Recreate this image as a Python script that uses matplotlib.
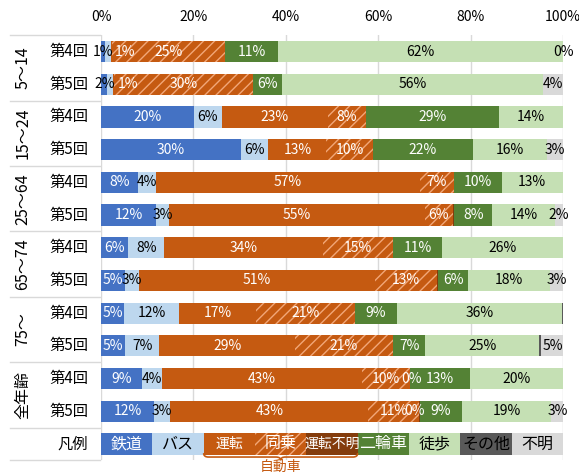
import matplotlib
matplotlib.use("Agg")
import matplotlib.pyplot as plt
import numpy as np
from matplotlib.path import Path
from matplotlib.patches import PathPatch
from matplotlib.transforms import blended_transform_factory

plt.rcParams['font.family'] = ['Noto Sans CJK JP', 'DejaVu Sans']
plt.rcParams['hatch.linewidth'] = 1.0

# ---------------- data ----------------
groups = ['5～14', '15～24', '25～64', '65～74', '75～', '全年齢']
rounds = ['第4回', '第5回']
categories = ['鉄道', 'バス', '運転', '同乗', '運転不明', '二輪車', '徒歩', 'その他', '不明']

tetsudo = [0.9, 1.4, 20.2, 30.3, 8.1, 11.9, 5.9, 5.2, 5.0, 5.2, 8.9, 11.5]
bus = [1.2, 1.3, 5.9, 5.9, 3.8, 2.8, 7.8, 3.0, 11.9, 7.4, 4.3, 3.5]
unten = [0.2, 0.2, 23.0, 12.6, 57.1, 55.4, 34.4, 51.2, 16.7, 29.4, 43.2, 42.9]
dojo = [24.6, 30.1, 8.2, 10.0, 7.4, 6.1, 15.2, 13.3, 21.3, 21.1, 10.5, 11.0]
unten_fumei = [0, 0, 0, 0, 0, 0.3, 0, 0.3, 0, 0.2, 0, 0.1]
nirin = [11.5, 6.2, 28.8, 21.7, 10.4, 8.2, 10.5, 6.4, 9.2, 6.9, 13.0, 9.2]
toho = [61.6, 56.5, 13.9, 16.0, 13.1, 13.6, 26.3, 17.7, 35.7, 24.7, 20.1, 19.3]
sonota = [0, 0, 0, 0, 0, 0, 0, 0, 0.3, 0.3, 0, 0]
fumei = [0, 4.3, 0, 3.5, 0, 1.7, 0, 3.0, 0, 5.0, 0, 2.7]

lbl_tetsudo = ['1%', '2%', '20%', '30%', '8%', '12%', '6%', '5%', '5%', '5%', '9%', '12%']
lbl_bus = ['', '', '6%', '6%', '4%', '3%', '8%', '3%', '12%', '7%', '4%', '3%']
lbl_unten = ['1%', '1%', '23%', '13%', '57%', '55%', '34%', '51%', '17%', '29%', '43%', '43%']
lbl_dojo = ['25%', '30%', '8%', '10%', '7%', '6%', '15%', '13%', '21%', '21%', '10%', '11%']
lbl_unten_fumei = ['', '', '', '', '', '', '', '', '', '', '0%', '0%']
lbl_nirin = ['11%', '6%', '29%', '22%', '10%', '8%', '11%', '6%', '9%', '7%', '13%', '9%']
lbl_toho = ['62%', '56%', '14%', '16%', '13%', '14%', '26%', '18%', '36%', '25%', '20%', '19%']
lbl_sonota = [''] * 12
lbl_fumei = ['0%', '4%', '', '3%', '', '2%', '', '3%', '', '5%', '', '3%']

xticks = [0, 20, 40, 60, 80, 100]
legend_title = '凡例'
brace_label = '自動車'

# ---------------- styles ----------------
values = [tetsudo, bus, unten, dojo, unten_fumei, nirin, toho, sonota, fumei]
labels = [lbl_tetsudo, lbl_bus, lbl_unten, lbl_dojo, lbl_unten_fumei,
          lbl_nirin, lbl_toho, lbl_sonota, lbl_fumei]
colors = ['#4472C4', '#BDD7EE', '#C55A11', '#C55A11', '#843C0C',
          '#548235', '#C5E0B4', '#595959', '#D9D9D9']
hatches = [None, None, None, '///', None, None, None, None, None]
txtcol = ['white', 'black', 'white', 'white', 'white', 'white', 'black', 'black', 'black']
leg_fs = [11.5, 11.5, 10, 11.5, 10, 11.5, 11.5, 11.5, 11.5]

label_shift = {(0, 2): 3.0, (1, 2): 3.1, (10, 4): 0.4, (11, 4): -1.0}
label_color = {(0, 0): 'black', (1, 0): 'black'}

W, H = 579, 473
fig = plt.figure(figsize=(W / 100, H / 100), dpi=100)
top_px, bot_px, left_px, right_px = 35.2, 460.3, 101, 563
ax = fig.add_axes([left_px / W, 1 - bot_px / H, (right_px - left_px) / W, (bot_px - top_px) / H])

nrows = len(tetsudo)
rows = np.arange(nrows)
bh = 0.65
left = np.zeros(nrows)
for ci, (vals, lbls) in enumerate(zip(values, labels)):
    vals = np.array(vals, dtype=float)
    kw = dict(height=bh, left=left, color=colors[ci], linewidth=0)
    if hatches[ci]:
        kw.update(hatch=hatches[ci], edgecolor='#F2A778')
    ax.barh(rows, vals, **kw)
    for r in rows:
        t = lbls[r]
        if not t:
            continue
        xc = left[r] + vals[r] / 2 + label_shift.get((r, ci), 0)
        ax.text(xc, r, t, ha='center', va='center', fontsize=10,
                color=label_color.get((r, ci), txtcol[ci]), clip_on=False)
    left = left + vals

# legend row
ly = nrows
seg = 100 / len(categories)
for ci, cat in enumerate(categories):
    kw = dict(height=bh, left=ci * seg, color=colors[ci], linewidth=0)
    if hatches[ci]:
        kw.update(hatch=hatches[ci], edgecolor='#F2A778')
    ax.barh([ly], [seg], **kw)
    ax.text(ci * seg + seg / 2, ly, cat, ha='center', va='center',
            fontsize=leg_fs[ci], color=txtcol[ci], clip_on=False)

# brace under 運転..運転不明
x0, x1 = 2 * seg, 5 * seg
xm = (x0 + x1) / 2
r = 1.0
yt, yb, ytip = ly + 0.28, ly + 0.40, ly + 0.50
verts = [(x0, yt), (x0, yb), (x0 + r, yb),
         (xm - r, yb), (xm, yb), (xm, ytip),
         (xm, yb), (xm + r, yb),
         (x1 - r, yb), (x1, yb), (x1, yt)]
codes = [Path.MOVETO, Path.CURVE3, Path.CURVE3,
         Path.LINETO, Path.CURVE3, Path.CURVE3,
         Path.CURVE3, Path.CURVE3,
         Path.LINETO, Path.CURVE3, Path.CURVE3]
ax.add_patch(PathPatch(Path(verts, codes), facecolor='none', edgecolor='#C55A11',
                       lw=1.2, clip_on=False))
ax.text(xm, ly + 0.69, brace_label, ha='center', va='center', fontsize=10,
        color='#C55A11', clip_on=False)

ax.set_xlim(0, 100)
ax.set_ylim(nrows + 0.5, -0.5)
ax.set_yticks([])
ax.set_xticks(xticks)
ax.set_xticklabels([f'{v}%' for v in xticks], fontsize=10)
ax.xaxis.tick_top()
ax.tick_params(axis='x', length=0, pad=8)
for s in ax.spines.values():
    s.set_visible(False)
ax.grid(axis='x', color='#D9D9D9', lw=1)
ax.set_axisbelow(True)

# left label area
def ax_x(px):
    return (px - left_px) / (right_px - left_px)

tr = blended_transform_factory(ax.transAxes, ax.transData)
for yline in [-0.5 + 2 * g for g in range(len(groups) + 1)] + [nrows + 0.5]:
    ax.plot([ax_x(10), ax_x(100)], [yline, yline], color='#D9D9D9', lw=1,
            transform=tr, clip_on=False)
for g, name in enumerate(groups):
    ax.text(ax_x(23), 2 * g + 0.5, name, rotation=90, ha='center', va='center',
            fontsize=11.5, transform=tr)
    for k, rd in enumerate(rounds):
        ax.text(ax_x(88), 2 * g + k, rd, ha='right', va='center', fontsize=11,
                transform=tr)
ax.text(ax_x(88), ly, legend_title, ha='right', va='center', fontsize=11, transform=tr)

fig.savefig('out.png', dpi=100)
